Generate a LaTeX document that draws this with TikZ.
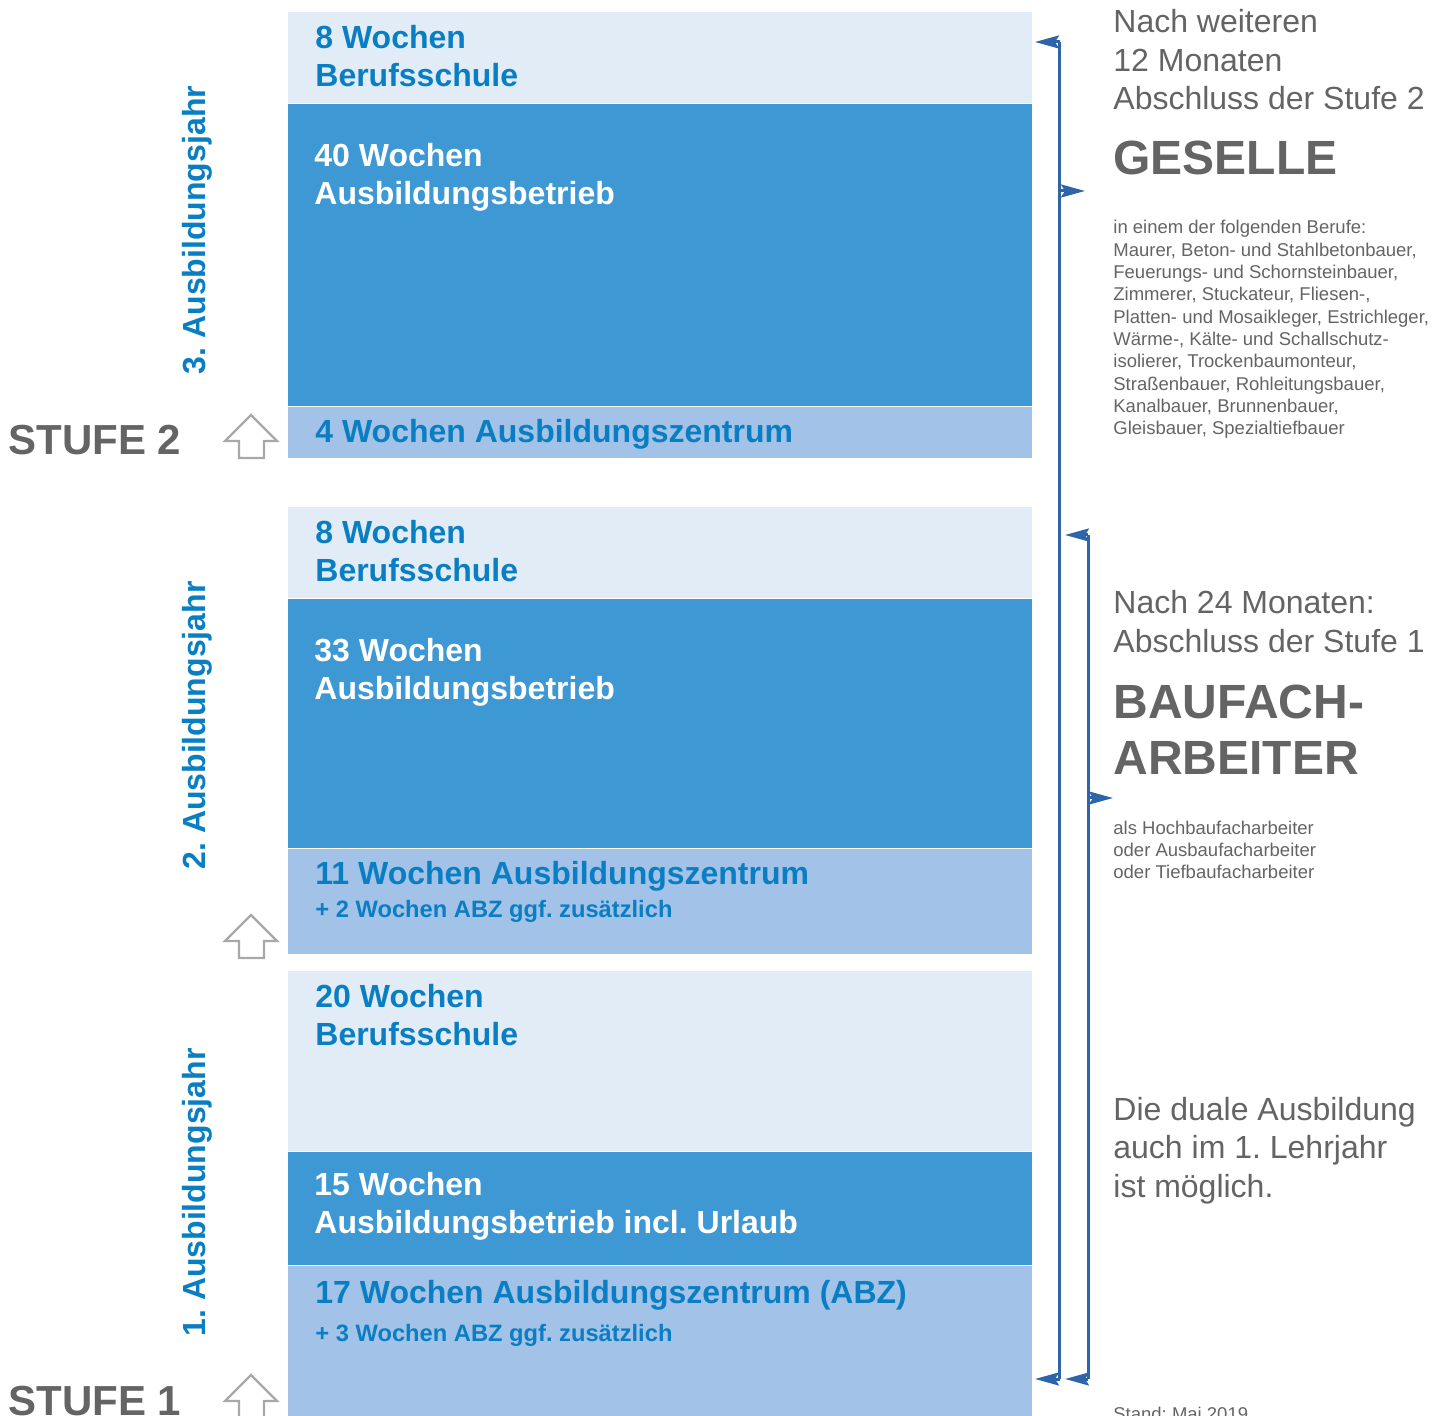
\documentclass[tikz,border=0pt]{standalone}
\usepackage{fontspec}
\setmainfont{Liberation Sans}
\usetikzlibrary{arrows.meta}
\frenchspacing
\definecolor{hell}{HTML}{E2ECF6}
\definecolor{dunkel}{HTML}{3D98D3}
\definecolor{abz}{HTML}{A2C2E7}
\definecolor{blau}{HTML}{0A7EC2}
\definecolor{grau}{HTML}{646464}
\definecolor{pfeilgrau}{HTML}{A8A8A8}
\definecolor{klammerblau}{HTML}{2E65A8}
\def\l{288}
\def\r{1032}
\def\pfeil#1#2{
	\draw[klammer,-{Stealth[length=12pt,width=6.5pt,inset=2pt]}] #1 -- #2;
}
\def\hoch#1{
	\draw[hochpfeil,shift={(0,#1)}] (251,0) -- (277,26) -- (264,26) -- (264,43) -- (239,43) -- (239,26) -- (225,26) -- cycle;
}
\tikzset{
	kasten/.style={anchor=base west,inner sep=0pt,align=left,text=blau,font=\bfseries\fontsize{16}{19}\selectfont},
	klein/.style={kasten,font=\bfseries\fontsize{11.85}{14}\selectfont},
	rechts/.style={anchor=base west,inner sep=0pt,align=left,text=grau,font=\fontsize{16}{19.25}\selectfont},
	titel/.style={rechts,font=\bfseries\fontsize{24}{28}\selectfont},
	notiz/.style={rechts,font=\fontsize{9.25}{11.15}\selectfont},
	jahr/.style={rotate=90,anchor=base,inner sep=0pt,text=blau,font=\bfseries\fontsize{16}{19}\selectfont},
	stufe/.style={anchor=base west,inner sep=0pt,text=grau,font=\bfseries\fontsize{21}{25}\selectfont},
	klammer/.style={draw=klammerblau,line width=1.5pt},
	hochpfeil/.style={draw=pfeilgrau,line width=1.2pt,fill=white}
}
\begin{document}
\begin{tikzpicture}[x=0.5pt,y=-0.5pt]
\useasboundingbox (0,0) rectangle (1447,1416);
\fill[hell] (\l,12) rectangle (\r,103);
\fill[dunkel] (\l,104) rectangle (\r,406);
\fill[abz] (\l,407) rectangle (\r,458);
\fill[hell] (\l,507) rectangle (\r,598);
\fill[dunkel] (\l,599) rectangle (\r,848);
\fill[abz] (\l,849) rectangle (\r,954);
\fill[hell] (\l,971) rectangle (\r,1151);
\fill[dunkel] (\l,1152) rectangle (\r,1265);
\fill[abz] (\l,1266) rectangle (\r,1420);
\node[kasten] (bs3) at (315,86.5) {8 Wochen\\Berufsschule};
\node[kasten,text=white] (ab3) at (314,204.5) {40 Wochen\\Ausbildungsbetrieb};
\node[kasten] (az3) at (315,443) {4 Wochen Ausbildungszentrum};
\node[kasten] (bs2) at (315,581.5) {8 Wochen\\Berufsschule};
\node[kasten,text=white] (ab2) at (314,699.5) {33 Wochen\\Ausbildungsbetrieb};
\node[kasten] (az2) at (315,885) {11 Wochen Ausbildungszentrum};
\node[klein] (zu2) at (315,918) {+ 2 Wochen ABZ ggf. zusätzlich};
\node[kasten] (bs1) at (315,1045.5) {20 Wochen\\Berufsschule};
\node[kasten,text=white] (ab1) at (314,1233) {15 Wochen\\Ausbildungsbetrieb incl. Urlaub};
\node[kasten] (az1) at (315,1303.5) {17 Wochen Ausbildungszentrum (ABZ)};
\node[klein] (zu1) at (315,1341) {+ 3 Wochen ABZ ggf. zusätzlich};
\node[jahr] (j3) at (205,230) {3. Ausbildungsjahr};
\node[jahr] (j2) at (205,725.5) {2. Ausbildungsjahr};
\node[jahr] (j1) at (205,1192.5) {1. Ausbildungsjahr};
\node[stufe] (s2) at (8,455) {STUFE 2};
\node[stufe] (s1) at (8,1415) {STUFE 1};
\hoch{415}
\hoch{915}
\hoch{1375}
\coordinate (k1o) at (1059.5,42);
\coordinate (k1ol) at (1035,42);
\coordinate (k1m) at (1059.5,191);
\coordinate (k1mr) at (1085,191);
\coordinate (k1u) at (1059.5,1379);
\coordinate (k1ul) at (1035,1379);
\coordinate (k2o) at (1088,535);
\coordinate (k2ol) at (1065,535);
\coordinate (k2m) at (1088,798);
\coordinate (k2mr) at (1113,798);
\coordinate (k2u) at (1088,1379);
\coordinate (k2ul) at (1065,1379);
\draw[klammer] (k1o) -- (k1u);
\draw[klammer] (k2o) -- (k2u);
\pfeil{(k1o)}{(k1ol)}
\pfeil{(k1m)}{(k1mr)}
\pfeil{(k1u)}{(k1ul)}
\pfeil{(k2o)}{(k2ol)}
\pfeil{(k2m)}{(k2mr)}
\pfeil{(k2u)}{(k2ul)}
\node[rechts] (n2) at (1113,110) {Nach weiteren\\12 Monaten\\Abschluss der Stufe 2};
\node[titel] (ges) at (1113,175) {GESELLE};
\node[notiz] (berufe) at (1113,434.7) {in einem der folgenden Berufe:\\Maurer, Beton- und Stahlbetonbauer,\\Feuerungs- und Schornsteinbauer,\\Zimmerer, Stuckateur, Fliesen-,\\Platten- und Mosaikleger, Estrichleger,\\Wärme-, Kälte- und Schallschutz-\\isolierer, Trockenbaumonteur,\\Straßenbauer, Rohleitungsbauer,\\Kanalbauer, Brunnenbauer,\\Gleisbauer, Spezialtiefbauer};
\node[rechts] (n1) at (1113,652.5) {Nach 24 Monaten:\\Abschluss der Stufe 1};
\node[titel] (bfa) at (1113,775) {BAUFACH-\\ARBEITER};
\node[notiz] (arten) at (1113,879) {als Hochbaufacharbeiter\\oder Ausbaufacharbeiter\\oder Tiefbaufacharbeiter};
\node[rechts] (dual) at (1113,1197) {Die duale Ausbildung\\auch im 1. Lehrjahr\\ist möglich.};
\node[notiz] (stand) at (1113,1420) {Stand: Mai 2019};
\end{tikzpicture}
\end{document}
